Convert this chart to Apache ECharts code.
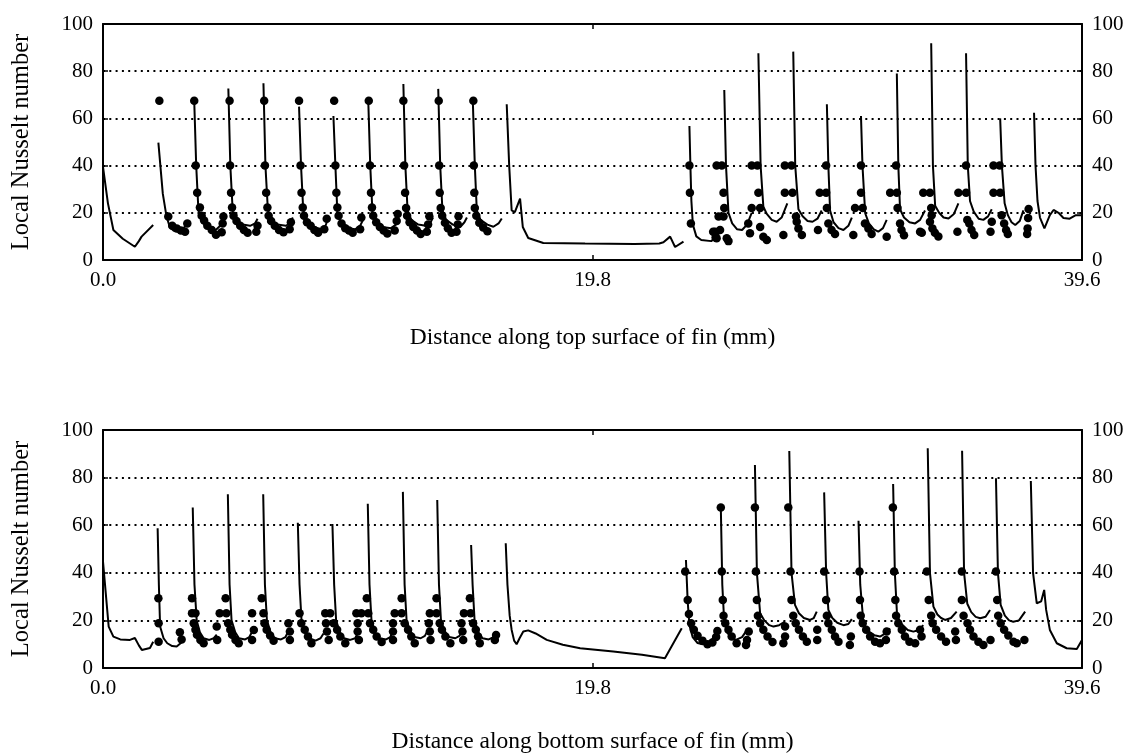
<!DOCTYPE html>
<html>
<head>
<meta charset="utf-8">
<script src="https://cdn.jsdelivr.net/npm/echarts@6/dist/echarts.min.js"></script>
<style>
  html, body { margin: 0; padding: 0; background: #fff; }
  #chart { width: 1136px; height: 755px; }
</style>
</head>
<body>
<div id="chart"></div>
<script>
// x range (mm) and tick step
const X_MAX = 39.6
const X_STEP = 19.8
const Y_MAX = 100
const Y_STEP = 20

// top surface: computed curve, one piece per fin segment
const topLineSegments = [
  [[0,39.5],[0.2,24],[0.42,12.7],[0.8,9],[1.29,5.6],[1.45,8],[1.56,9.9],[2.03,14.8]],
  [[2.24,49.7],[2.42,28],[2.57,18.4],[2.7,14],[2.85,12.5],[3.1,12],[3.3,14],[3.4,15.5]],
  [[3.69,67.5],[3.77,40],[3.86,21],[3.99,16.5],[4.24,13.5],[4.54,12.5],[4.74,14.5],[4.89,18.5]],
  [[5.07,72.7],[5.15,40],[5.25,20],[5.4,17],[5.65,15],[5.95,14.5],[6.15,15.5],[6.25,17.5]],
  [[6.49,74.9],[6.57,40],[6.67,21],[6.82,17],[7.05,15],[7.4,14.5],[7.55,15.5],[7.68,18]],
  [[7.93,65],[8.01,40],[8.1,21],[8.25,16.5],[8.5,14],[8.85,13],[9.0,14.5],[9.12,18]],
  [[9.32,61],[9.4,40],[9.48,20],[9.62,16],[9.9,13.5],[10.2,13],[10.4,14.5],[10.52,17]],
  [[10.73,67.5],[10.81,40],[10.9,20],[11.05,16],[11.3,14],[11.65,13.5],[11.85,15],[11.95,17.5]],
  [[12.15,74.6],[12.23,40],[12.32,21],[12.47,17],[12.75,15],[13.05,14.5],[13.25,16],[13.35,18]],
  [[13.56,72.5],[13.64,40],[13.73,21],[13.88,17],[14.15,15],[14.45,14],[14.62,16],[14.72,18]],
  [[14.96,67],[15.04,40],[15.12,21],[15.27,17],[15.55,15],[15.79,14.1],[16.0,15.5],[16.13,17.6]],
  [[16.33,66],[16.43,40],[16.53,21],[16.66,20.3],[16.87,26],[16.98,14],[17.2,9.3],[17.81,7.2],[19.5,7],[21.5,6.8],[22.5,7],[22.67,7.5],[22.94,9.9],[23.14,5.5],[23.48,7.8]],
  [[23.72,56.8],[23.76,40],[23.8,25],[23.86,15],[24.0,10],[24.2,8.5],[24.6,8],[24.85,10],[24.97,12.5]],
  [[25.13,72],[25.2,40],[25.3,20],[25.45,15.5],[25.65,13],[25.85,12.7],[26.05,15],[26.24,20]],
  [[26.51,87.6],[26.6,40],[26.71,22.6],[26.85,19.5],[27.05,17],[27.25,16.2],[27.45,18],[27.68,24]],
  [[27.92,88.3],[28.0,40],[28.13,21.5],[28.3,18.5],[28.5,16.5],[28.7,16.2],[28.9,17.5],[29.07,21]],
  [[29.28,66],[29.34,40],[29.41,21],[29.55,16],[29.75,13.5],[29.95,12.7],[30.15,14.5],[30.29,18]],
  [[30.66,61],[30.72,40],[30.83,19.8],[30.98,15.5],[31.18,13],[31.36,12],[31.55,13.5],[31.7,17]],
  [[32.11,79],[32.17,40],[32.24,21.5],[32.4,18],[32.62,16],[32.85,15.5],[33.05,17],[33.25,21]],
  [[33.5,91.8],[33.57,40],[33.66,23],[33.82,20],[34.0,18],[34.2,17.6],[34.42,19.5],[34.6,24]],
  [[34.91,87.6],[34.98,40],[35.07,25],[35.22,20.5],[35.42,17.5],[35.61,17],[35.8,18.5],[35.95,21.5]],
  [[36.29,60],[36.36,40],[36.47,24],[36.6,19],[36.75,16],[36.9,14.8],[37.08,16.5],[37.23,21]],
  [[37.66,62.4],[37.72,40],[37.8,25],[37.9,18],[38.08,13.4],[38.3,19],[38.45,21.2],[38.65,20],[38.85,17.8],[39.1,17.5],[39.35,19],[39.6,19]]
]

// top surface: measured points
const topDots = [
  [2.28,67.5],[2.64,18.4],[2.8,14.5],[2.98,13.4],[3.15,12.5],[3.32,12],[3.41,15.5],
  [3.69,67.5],[3.75,40],[3.81,28.5],[3.92,22.2],[3.99,18.8],[4.09,16.7],[4.22,14.5],[4.4,12.7],[4.57,10.7],[4.8,11.8],[4.84,15.5],[4.87,18.4],
  [5.12,67.5],[5.14,40],[5.18,28.5],[5.22,22.2],[5.28,18.8],[5.4,16.5],[5.55,14.5],[5.7,12.7],[5.85,11.5],[6.2,12],[6.25,14.5],
  [6.52,67.5],[6.55,40],[6.6,28.5],[6.65,22.2],[6.7,18.8],[6.8,16.5],[6.95,14.5],[7.12,12.7],[7.3,11.8],[7.55,13],[7.6,16],
  [7.93,67.5],[7.99,40],[8.03,28.5],[8.08,22.2],[8.13,18.8],[8.25,16],[8.4,14.5],[8.55,12.7],[8.7,11.5],[8.95,13],[9.05,17.5],
  [9.35,67.5],[9.4,40],[9.44,28.5],[9.48,22.2],[9.53,18.8],[9.65,15.5],[9.8,13.5],[9.95,12.5],[10.1,11.5],[10.4,13],[10.45,18],
  [10.75,67.5],[10.8,40],[10.84,28.5],[10.88,22.2],[10.93,18.8],[11.05,16],[11.2,14],[11.35,12.5],[11.5,11.2],[11.8,12.5],[11.88,16.5],[11.92,19.5],
  [12.15,67.5],[12.18,40],[12.22,28.5],[12.26,22],[12.3,18.8],[12.4,16],[12.55,14],[12.7,12.5],[12.85,11],[13.1,12],[13.15,15],[13.2,18.5],
  [13.58,67.5],[13.6,40],[13.62,28.5],[13.66,22],[13.72,18.8],[13.83,15.8],[13.95,13.5],[14.1,11.5],[14.3,12],[14.35,15],[14.38,18.5],
  [14.98,67.5],[15.0,40],[15.02,28.5],[15.04,22],[15.1,18.8],[15.22,15.8],[15.38,13.8],[15.55,12.2],
  [23.72,40],[23.74,28.5],[23.78,15.5],[24.68,12],[24.78,9.5],
  [24.82,40],[25.03,40],[25.1,28.5],[25.13,22],[24.9,18.4],[25.1,18.4],[24.76,12],[24.96,12.7],[24.82,9.2],[25.23,9.2],[25.3,8],
  [26.24,40],[26.47,40],[26.51,28.5],[26.24,22],[26.58,22],[26.1,15.5],[26.17,11.3],[26.58,14],[26.71,9.9],[26.85,8.5],
  [27.58,40],[27.85,40],[27.58,28.5],[27.89,28.5],[28.03,18.4],[27.52,10.6],[28.06,16.2],[28.13,13.4],[28.27,10.6],
  [29.25,40],[28.99,28.5],[29.25,28.5],[29.28,22],[28.92,12.7],[29.34,15.5],[29.47,12.7],[29.61,11],
  [30.66,40],[30.66,28.5],[30.42,22],[30.73,22],[30.35,10.6],[30.82,15.5],[30.96,13.4],[31.09,11],[31.7,9.9],
  [32.08,40],[31.84,28.5],[32.11,28.5],[32.14,22],[32.24,15.5],[32.3,12.7],[32.4,10.5],[33.05,12],[33.12,11.5],
  [33.18,28.5],[33.45,28.5],[33.5,22],[33.52,19],[33.45,16.2],[33.55,13.4],[33.65,11.5],[33.79,10],
  [34.91,40],[34.6,28.5],[34.91,28.5],[34.56,12],[34.96,17],[35.04,15.5],[35.13,12.7],[35.24,10.6],
  [36.02,40],[36.27,40],[36.02,28.5],[36.29,28.5],[35.95,16.2],[35.9,12],[36.35,19],[36.45,15.5],[36.53,12.7],[36.6,11],
  [37.44,21.6],[37.42,17.8],[37.4,13.4],[37.38,11]
]

// bottom surface: computed curve
const bottomLineSegments = [
  [[0,44.7],[0.23,17.4],[0.42,13.2],[0.7,12],[1.09,11.8],[1.29,12.6],[1.45,9.5],[1.57,7.6],[1.9,8.4],[2.03,11]],
  [[2.21,58.7],[2.26,35],[2.31,17.4],[2.45,12.5],[2.6,10.4],[2.8,9.2],[2.98,9],[3.15,10.5],[3.25,12.5]],
  [[3.63,67.4],[3.7,35],[3.79,20],[3.92,15],[4.07,12.5],[4.3,11.8],[4.48,12.5],[4.6,14]],
  [[5.05,73],[5.12,35],[5.2,20],[5.35,15],[5.5,12.5],[5.75,12],[5.92,13],[6.02,15]],
  [[6.48,73],[6.55,35],[6.63,20],[6.78,15],[6.95,12.5],[7.2,12],[7.38,13],[7.48,15]],
  [[7.88,61],[7.95,35],[8.03,20],[8.18,15],[8.35,12.5],[8.6,11.5],[8.8,12.5],[8.92,14.5]],
  [[9.28,60.5],[9.35,35],[9.43,20],[9.58,15],[9.75,12.5],[10.0,11.8],[10.2,12.5],[10.3,14.5]],
  [[10.71,69],[10.78,35],[10.86,20],[11.0,15],[11.18,12.5],[11.45,12],[11.62,13],[11.72,15]],
  [[12.13,74],[12.2,35],[12.28,20],[12.43,15.5],[12.6,13],[12.85,12.5],[13.02,13.5],[13.12,15.5]],
  [[13.52,70.6],[13.59,35],[13.67,20],[13.82,15.5],[14.0,13],[14.25,12.5],[14.42,13.5],[14.52,15.5]],
  [[14.89,51.7],[14.95,35],[15.03,20],[15.18,15],[15.35,12.5],[15.6,12],[15.8,13],[15.92,15.5]],
  [[16.29,52.4],[16.36,35],[16.45,22],[16.53,16],[16.63,11.5],[16.73,10],[16.85,12.5],[17.0,15.3],[17.2,15.8],[17.5,14.5],[17.95,11.8],[18.6,9.8],[19.3,8.3],[20.64,6.9],[21.8,5.6],[22.73,4.1],[23.07,10.4],[23.41,16.7]],
  [[23.58,45.4],[23.65,28],[23.72,18],[23.85,13],[24.05,10.5],[24.25,10],[24.55,11],[24.75,13.5],[24.85,16]],
  [[24.99,67.8],[25.05,35],[25.13,19],[25.28,14.5],[25.45,12.5],[25.6,11.8],[25.85,13],[26.05,16]],
  [[26.37,85.3],[26.45,40],[26.58,23],[26.75,20],[26.95,18],[27.12,17.4],[27.35,18],[27.59,19.5]],
  [[27.76,91.2],[27.85,40],[27.99,26.5],[28.15,23],[28.35,21],[28.6,20.2],[28.75,21],[28.87,23.7]],
  [[29.17,73.8],[29.25,40],[29.34,24.4],[29.5,21],[29.7,19],[29.95,18],[30.15,18.5],[30.29,20.5]],
  [[30.56,61.9],[30.63,35],[30.76,18.8],[30.95,15.5],[31.2,13.8],[31.43,13.2],[31.65,14.5],[31.84,16.6]],
  [[31.96,77.3],[32.03,40],[32.12,22],[32.3,18.5],[32.55,16],[32.78,15.3],[33.0,16],[33.18,18]],
  [[33.36,92.3],[33.45,40],[33.59,25.8],[33.75,22.5],[33.9,21],[34.06,20.2],[34.3,21],[34.53,23.7]],
  [[34.75,91.3],[34.83,40],[34.96,27],[35.12,23.5],[35.3,21.5],[35.48,20.9],[35.7,21.5],[35.88,24.4]],
  [[36.12,79.7],[36.2,40],[36.31,26.5],[36.48,22],[36.65,20],[36.82,19.4],[37.05,20],[37.3,23.7]],
  [[37.53,78.6],[37.62,40],[37.77,27.2],[37.95,28],[38.07,32.8],[38.15,24.4],[38.3,16],[38.58,10.4],[38.98,8.3],[39.39,8],[39.6,11.8]]
]

// bottom surface: measured points
const bottomDots = [
  [2.24,29.3],[2.25,18.8],[2.25,11],
  [3.11,15],[3.18,12],[3.6,29.3],[3.6,23],[3.74,23],[3.67,18.8],[3.74,16.1],[3.8,14],[3.94,11.8],[4.07,10.4],
  [4.6,17.4],[4.62,11.8],[4.72,23],[4.99,23],[4.96,29.3],[5.06,18.8],[5.15,16.1],[5.22,14],[5.36,11.8],[5.49,10.4],[6.03,23],[6.1,16],[6.03,11.8],
  [6.42,29.3],[6.49,23],[6.53,18.8],[6.62,16.1],[6.76,13.7],[6.9,11.5],[7.5,18.8],[7.56,15.3],[7.56,11.8],
  [7.95,23],[8.02,18.8],[8.16,16.1],[8.29,13.2],[8.43,10.4],[8.99,23],[9.19,23],[9.02,18.8],[9.06,15.3],[9.13,11.8],
  [9.33,18.8],[9.47,16.1],[9.6,13.2],[9.8,10.4],[10.25,23],[10.45,23],[10.3,18.8],[10.3,15.3],[10.35,11.8],
  [10.67,29.3],[10.73,23],[10.8,18.8],[10.93,16.1],[11.07,13.2],[11.27,10.9],
  [12.08,29.3],[11.8,23],[12.08,23],[11.73,18.8],[11.73,15.3],[11.73,11.8],[12.2,18.8],[12.34,16.1],[12.47,13.2],[12.61,10.4],
  [13.49,29.3],[13.22,23],[13.49,23],[13.18,18.8],[13.22,15.3],[13.25,11.8],[13.62,18.8],[13.71,16.1],[13.85,13.2],[14.05,10.4],
  [14.84,29.3],[14.6,23],[14.87,23],[14.5,18.8],[14.54,15.3],[14.57,11.8],[14.97,18.8],[15.08,16.1],[15.17,13.2],[15.24,10.4],[15.85,11.8],[15.9,13.9],
  [23.55,40.5],[23.65,28.6],[23.7,22.7],[23.79,18.8],[23.9,16.1],[24.05,13.5],[24.25,11.5],[24.45,10],[24.65,10.7],[24.8,13],[24.85,15.5],
  [24.99,67.4],[25.03,40.5],[25.07,28.6],[25.1,22],[25.17,18.8],[25.3,16.1],[25.43,13.2],[25.63,10.4],[26.01,9.7],[26.05,11.8],[26.12,15.3],
  [26.37,67.4],[26.41,40.5],[26.45,28.6],[26.49,22],[26.58,18.8],[26.71,16.1],[26.88,13.2],[27.08,10.9],[27.52,10.4],[27.59,13.2],[27.59,17.4],
  [27.72,67.4],[27.81,40.5],[27.85,28.6],[27.92,22],[28.02,18.8],[28.15,16.1],[28.31,13.2],[28.47,11],[28.89,16.1],[28.89,11.8],
  [29.17,40.5],[29.25,28.6],[29.28,22],[29.34,18.8],[29.48,16.1],[29.61,13.2],[29.75,11],[30.25,13.2],[30.21,9.7],
  [30.6,40.5],[30.62,28.6],[30.65,22],[30.73,18.8],[30.87,16.1],[31.03,13.2],[31.23,11],[31.43,10.4],[31.67,11.8],[31.7,15.3],
  [31.95,67.4],[32.0,40.5],[32.05,28.6],[32.08,22],[32.17,18.8],[32.31,16.1],[32.44,13.2],[32.62,11],[32.85,10.4],[33.05,16.1],[33.11,13.2],
  [33.32,40.5],[33.4,28.6],[33.5,22],[33.56,18.8],[33.7,16.1],[33.9,13.2],[34.1,11],[34.47,15.3],[34.5,11.8],
  [34.74,40.5],[34.74,28.6],[34.81,22],[34.97,18.8],[35.07,16.1],[35.21,13.2],[35.41,11],[35.61,9.7],[35.9,11.8],
  [36.12,40.5],[36.17,28.6],[36.21,22],[36.31,18.8],[36.45,16.1],[36.62,13.7],[36.83,11],[36.96,10.4],[37.27,11.8]
]

const FONT = "'Liberation Serif', 'Times New Roman', serif"
const INK = '#000'

// put a break ('-') between pieces so the line is not joined across gaps
function joinSegments(segs) {
  const out = []
  segs.forEach((s, i) => {
    if (i) out.push([s[0][0], '-'])
    s.forEach(p => out.push(p))
  })
  return out
}

function xAxes(gridIndex, title, gap) {
  return [{
    type: 'value', gridIndex, min: 0, max: X_MAX, interval: X_STEP,
    name: title, nameLocation: 'middle', nameGap: gap,
    nameTextStyle: { fontFamily: FONT, fontSize: 23.5, color: INK },
    axisLine: { onZero: false, lineStyle: { color: INK, width: 2 } },
    axisTick: { inside: true, length: 5, lineStyle: { color: INK, width: 1.5 } },
    axisLabel: { fontFamily: FONT, fontSize: 21, color: INK, margin: 10, formatter: v => v.toFixed(1) },
    splitLine: { show: false },
  }, {
    type: 'value', gridIndex, position: 'top', min: 0, max: X_MAX, interval: X_STEP,
    axisLine: { onZero: false, lineStyle: { color: INK, width: 2 } },
    axisTick: { inside: true, length: 5, lineStyle: { color: INK, width: 1.5 } },
    axisLabel: { show: false },
    splitLine: { show: false },
  }]
}

function yAxes(gridIndex) {
  const label = { fontFamily: FONT, fontSize: 21, color: INK, margin: 10 }
  return [{
    type: 'value', gridIndex, min: 0, max: Y_MAX, interval: Y_STEP,
    name: 'Local Nusselt number', nameLocation: 'middle', nameGap: 69, nameRotate: 90,
    nameTextStyle: { fontFamily: FONT, fontSize: 24.5, color: INK },
    axisLine: { onZero: false, lineStyle: { color: INK, width: 2 } },
    axisTick: { inside: true, length: 5, lineStyle: { color: INK, width: 1.5 } },
    axisLabel: label,
    splitLine: { show: true, lineStyle: { color: INK, width: 2, type: [2, 4.3] } },
  }, {
    type: 'value', gridIndex, position: 'right', min: 0, max: Y_MAX, interval: Y_STEP,
    axisLine: { onZero: false, lineStyle: { color: INK, width: 2 } },
    axisTick: { inside: true, length: 5, lineStyle: { color: INK, width: 1.5 } },
    axisLabel: label,
    splitLine: { show: false },
  }]
}

function panelSeries(xi, yi, segs, dots) {
  return [{
    type: 'line', xAxisIndex: xi, yAxisIndex: yi, data: joinSegments(segs),
    showSymbol: false, symbol: 'none', connectNulls: false,
    lineStyle: { color: INK, width: 2 }, z: 3,
  }, {
    type: 'scatter', xAxisIndex: xi, yAxisIndex: yi, data: dots,
    symbol: 'circle', symbolSize: 8.5, itemStyle: { color: INK, opacity: 1 }, z: 4,
  }]
}

const chart = echarts.init(document.getElementById('chart'), null, { renderer: 'canvas' })
chart.setOption({
  animation: false,
  backgroundColor: '#fff',
  grid: [
    { left: 103, top: 24, width: 979, height: 236 },
    { left: 103, top: 430, width: 979, height: 238 },
  ],
  xAxis: [
    ...xAxes(0, 'Distance along top surface of fin (mm)', 66),
    ...xAxes(1, 'Distance along bottom surface of fin (mm)', 62),
  ],
  yAxis: [...yAxes(0), ...yAxes(1)],
  series: [
    ...panelSeries(0, 0, topLineSegments, topDots),
    ...panelSeries(2, 2, bottomLineSegments, bottomDots),
  ],
})
</script>
</body>
</html>
